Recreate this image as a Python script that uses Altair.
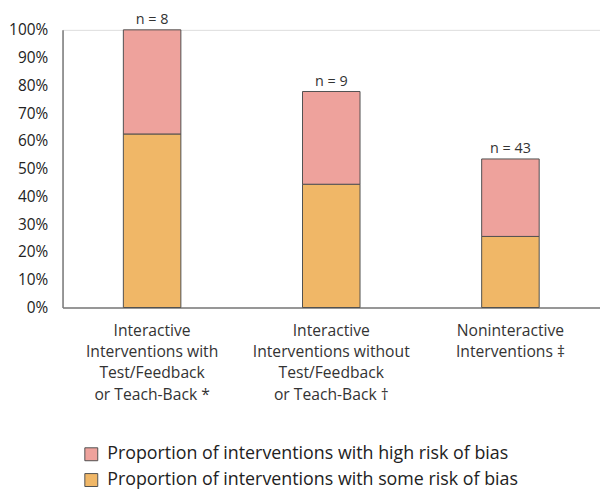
import altair as alt
import pandas as pd

categories = [
    "Interactive|Interventions with|Test/Feedback|or Teach-Back *",
    "Interactive|Interventions without|Test/Feedback|or Teach-Back †",
    "Noninteractive|Interventions ‡",
]
some_risk = [0.625, 0.444, 0.256]
high_risk = [0.375, 0.334, 0.279]
n_labels = ["n = 8", "n = 9", "n = 43"]
y_ticks = [0.0, 0.1, 0.2, 0.3, 0.4, 0.5, 0.6, 0.7, 0.8, 0.9, 1.0]
series_names = [
    "Proportion of interventions with high risk of bias",
    "Proportion of interventions with some risk of bias",
]
series_colors = ["#EEA29C", "#F0B767"]

rows = []
for c, s, h in zip(categories, some_risk, high_risk):
    rows.append({"cat": c, "series": series_names[1], "value": s, "ord": 0})
    rows.append({"cat": c, "series": series_names[0], "value": h, "ord": 1})
df = pd.DataFrame(rows)

tot = pd.DataFrame({
    "cat": categories,
    "value": [s + h for s, h in zip(some_risk, high_risk)],
    "label": n_labels,
})

FONT = "Open Sans"

x_axis = alt.Axis(
    title=None,
    labelAngle=0,
    ticks=False,
    labelExpr="split(datum.label, '|')",
    labelFontSize=15.8,
    labelLineHeight=21.5,
    labelPadding=16,
    labelColor="#333333",
    labelFont=FONT,
    labelLimit=300,
    domainColor="#7a7a7a",
    domainWidth=1.5,
)
y_axis = alt.Axis(
    title=None,
    format=".0%",
    values=y_ticks,
    labelOverlap=False,
    ticks=False,
    grid=False,
    labelFontSize=15.5,
    labelPadding=15,
    labelColor="#222222",
    labelFont=FONT,
    domainColor="#7a7a7a",
    domainWidth=1.5,
)
x_enc = alt.X("cat:N", sort=categories,
              scale=alt.Scale(paddingInner=0, paddingOuter=0), axis=x_axis)
y_enc = alt.Y("value:Q", stack="zero",
              scale=alt.Scale(domain=[0, 1], nice=False), axis=y_axis)

bars = alt.Chart(df).mark_bar(size=58, stroke="#505050", strokeWidth=1).encode(
    x=x_enc,
    y=y_enc,
    color=alt.Color(
        "series:N",
        scale=alt.Scale(domain=series_names, range=series_colors),
        legend=alt.Legend(
            title=None,
            orient="none",
            legendX=20,
            legendY=419,
            symbolType="square",
            symbolSize=170,
            symbolStrokeColor="#505050",
            symbolStrokeWidth=1,
            labelFontSize=18,
            labelFont=FONT,
            labelColor="#222222",
            labelLimit=600,
            rowPadding=8,
            labelOffset=7,
        ),
    ),
    order=alt.Order("ord:Q"),
)

texts = alt.Chart(tot).mark_text(
    baseline="bottom", dy=-3, fontSize=14.5, font=FONT, color="#333333"
).encode(
    x=x_enc,
    y=alt.Y("value:Q", scale=alt.Scale(domain=[0, 1], nice=False), axis=y_axis),
    text="label:N",
)

chart = (
    alt.layer(bars, texts)
    .properties(
        width=542,
        height=280,
        autosize=alt.AutoSizeParams(type="none"),
        padding={"left": 55, "top": 20, "right": 0, "bottom": 182},
    )
    .configure_view(strokeWidth=0)
    .configure(background="white")
)

chart.save("out.html", embed_options={"renderer": "svg", "actions": False})
